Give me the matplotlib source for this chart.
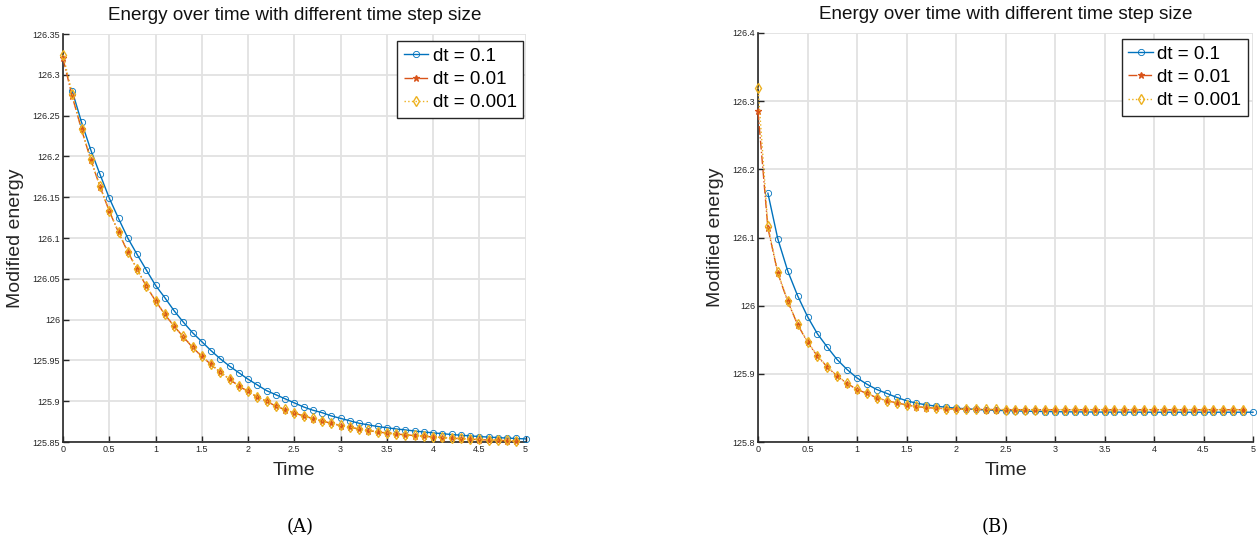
import numpy as np
import matplotlib
matplotlib.use('Agg')
import matplotlib.pyplot as plt
from matplotlib.ticker import FuncFormatter

plt.rcParams['font.family'] = ['Liberation Sans', 'DejaVu Sans']

# ---------------- data ----------------
# time axis (markers every 0.1)
t_coarse = np.round(np.arange(1, 51) * 0.1, 1)      # dt = 0.1 run: 0.1 .. 5.0
t_fine = np.round(np.arange(0, 50) * 0.1, 1)         # dt = 0.01 / 0.001 runs: 0 .. 4.9

# panel (A)
a_dt1 = [126.280, 126.242, 126.208, 126.178, 126.149, 126.124, 126.100, 126.080, 126.061, 126.042,
         126.027, 126.011, 125.997, 125.984, 125.973, 125.962, 125.952, 125.943, 125.935, 125.927,
         125.920, 125.913, 125.908, 125.903, 125.898, 125.893, 125.889, 125.886, 125.882, 125.879,
         125.876, 125.873, 125.871, 125.869, 125.8675, 125.866, 125.8648, 125.8635, 125.8623, 125.8612,
         125.8602, 125.8592, 125.8583, 125.8575, 125.8567, 125.856, 125.8554, 125.8548, 125.8543, 125.8538]
a_dt01 = [126.320, 126.2735, 126.233, 126.196, 126.163, 126.133, 126.107, 126.083, 126.062, 126.041,
          126.023, 126.0065, 125.992, 125.979, 125.966, 125.955, 125.945, 125.9355, 125.927, 125.9186,
          125.912, 125.905, 125.900, 125.894, 125.8897, 125.8855, 125.882, 125.8787, 125.8757, 125.873,
          125.870, 125.868, 125.866, 125.864, 125.8623, 125.861, 125.8598, 125.8588, 125.8578, 125.857,
          125.8562, 125.8554, 125.8547, 125.854, 125.8534, 125.8529, 125.8524, 125.852, 125.8516, 125.8512]
a_dt001 = [126.3246, 126.2768, 126.234, 126.1965, 126.1633, 126.1333, 126.1073, 126.0833, 126.0622, 126.0413,
           126.0233, 126.0068, 125.9923, 125.9793, 125.9663, 125.9553, 125.9453, 125.9358, 125.9273, 125.9189,
           125.9123, 125.9053, 125.9003, 125.8943, 125.89, 125.8858, 125.8823, 125.879, 125.876, 125.8733,
           125.8703, 125.8683, 125.8663, 125.8643, 125.8626, 125.8613, 125.8601, 125.8591, 125.8581, 125.8573,
           125.8565, 125.8557, 125.855, 125.8543, 125.8537, 125.8532, 125.8527, 125.8523, 125.8519, 125.8515]

# panel (B)
b_dt1 = [126.165, 126.098, 126.051, 126.0146, 125.984, 125.9587, 125.9392, 125.9208, 125.9063, 125.894,
         125.8848, 125.877, 125.8713, 125.8655, 125.8605, 125.857, 125.8545, 125.8525, 125.851, 125.8497,
         125.8487, 125.8478, 125.847, 125.8465, 125.846, 125.8456, 125.8452, 125.845, 125.8447, 125.8445,
         125.8443, 125.8442, 125.8441, 125.844, 125.8439, 125.8439, 125.8438, 125.8438, 125.8438, 125.8437,
         125.8437, 125.8437, 125.8437, 125.8437, 125.8437, 125.8437, 125.8437, 125.8437, 125.8437, 125.8437]
b_dt01 = [126.285, 126.114, 126.0477, 126.0063, 125.9723, 125.9465, 125.926, 125.910, 125.8965, 125.8858,
          125.877, 125.8713, 125.8649, 125.8605, 125.8576, 125.8542, 125.852, 125.8505, 125.8495, 125.8488,
          125.8483, 125.848, 125.8478, 125.8476, 125.8475, 125.8474, 125.8474, 125.8473, 125.8473, 125.8473,
          125.8473, 125.8473, 125.8473, 125.8473, 125.8473, 125.8473, 125.8473, 125.8473, 125.8473, 125.8473,
          125.8473, 125.8473, 125.8473, 125.8473, 125.8473, 125.8473, 125.8473, 125.8473, 125.8473, 125.8473]
b_dt001 = [126.320, 126.117, 126.049, 126.007, 125.973, 125.947, 125.9265, 125.9105, 125.897, 125.8862,
           125.8773, 125.8716, 125.8652, 125.8608, 125.8578, 125.8545, 125.8523, 125.8508, 125.8498, 125.849,
           125.8485, 125.8482, 125.848, 125.8478, 125.8477, 125.8476, 125.8476, 125.8475, 125.8475, 125.8475,
           125.8475, 125.8475, 125.8475, 125.8475, 125.8475, 125.8475, 125.8475, 125.8475, 125.8475, 125.8475,
           125.8475, 125.8475, 125.8475, 125.8475, 125.8475, 125.8475, 125.8475, 125.8475, 125.8475, 125.8475]

x_ticks = [0, 0.5, 1, 1.5, 2, 2.5, 3, 3.5, 4, 4.5, 5]
a_yticks = [125.85, 125.9, 125.95, 126, 126.05, 126.1, 126.15, 126.2, 126.25, 126.3, 126.35]
b_yticks = [125.8, 125.9, 126, 126.1, 126.2, 126.3, 126.4]
labels = ['dt = 0.1', 'dt = 0.01', 'dt = 0.001']

# MATLAB default colours
C_BLUE = '#0072BD'
C_RED = '#D95319'
C_YEL = '#EDB120'
AX_COL = '#262626'

fig = plt.figure(figsize=(12.59, 5.42), dpi=100)
axA = fig.add_axes([63 / 1259, 100 / 542, 462.5 / 1259, 408 / 542])
axB = fig.add_axes([758 / 1259, 100 / 542, 495 / 1259, 409 / 542])

fmt = FuncFormatter(lambda v, p: f'{v:g}')


def draw_panel(ax, y1, y01, y001, yticks, legend_anchor):
    ax.plot(t_coarse, y1, '-', color=C_BLUE, lw=1.0, marker='o', ms=4.5,
            mfc='none', mew=0.6, clip_on=False, zorder=3, label=labels[0])
    ax.plot(t_fine, y01, '-.', color=C_RED, lw=1.0, marker='*', ms=5,
            mew=0.9, clip_on=False, zorder=4, label=labels[1])
    ax.plot(t_fine, y001, ':', color=C_YEL, lw=1.0, marker='d', ms=5,
            mfc='none', mew=1.0, clip_on=False, zorder=5, label=labels[2])

    ax.set_xlim(0, 5)
    ax.set_ylim(yticks[0], yticks[-1])
    ax.set_xticks(x_ticks)
    ax.set_yticks(yticks)
    ax.xaxis.set_major_formatter(fmt)
    ax.yaxis.set_major_formatter(fmt)
    ax.grid(True, color='#e2e2e2', lw=1.3)
    ax.set_axisbelow(True)
    for side in ['top', 'right']:
        ax.spines[side].set_visible(False)
    for side in ['left', 'bottom']:
        ax.spines[side].set_color(AX_COL)
        ax.spines[side].set_linewidth(1.2)
    ax.tick_params(direction='in', length=4, width=1.0, colors=AX_COL,
                   labelsize=6.5, pad=2)

    ax.set_title('Energy over time with different time step size', fontsize=13.6,
                 color='#111111', pad=10)
    ax.set_xlabel('Time', fontsize=14, color=AX_COL, labelpad=6)
    ax.set_ylabel('Modified energy', fontsize=14, color=AX_COL, labelpad=6)

    leg = ax.legend(loc='upper right', bbox_to_anchor=legend_anchor, fontsize=13.5,
                    frameon=True, fancybox=False, edgecolor=AX_COL, framealpha=1,
                    handlelength=1.3, handletextpad=0.25, borderpad=0.35,
                    labelspacing=0.32, borderaxespad=0)
    leg.get_frame().set_linewidth(1.0)


draw_panel(axA, a_dt1, a_dt01, a_dt001, a_yticks, (0.995, 0.982))
draw_panel(axB, b_dt1, b_dt01, b_dt001, b_yticks, (0.99, 0.985))

# sub-figure captions
fig.text(300 / 1259, 1 - 527 / 542, '(A)', ha='center', va='center',
         fontsize=13, family='DejaVu Serif')
fig.text(995 / 1259, 1 - 527 / 542, '(B)', ha='center', va='center',
         fontsize=13, family='DejaVu Serif')

fig.savefig('out.png', dpi=100)
